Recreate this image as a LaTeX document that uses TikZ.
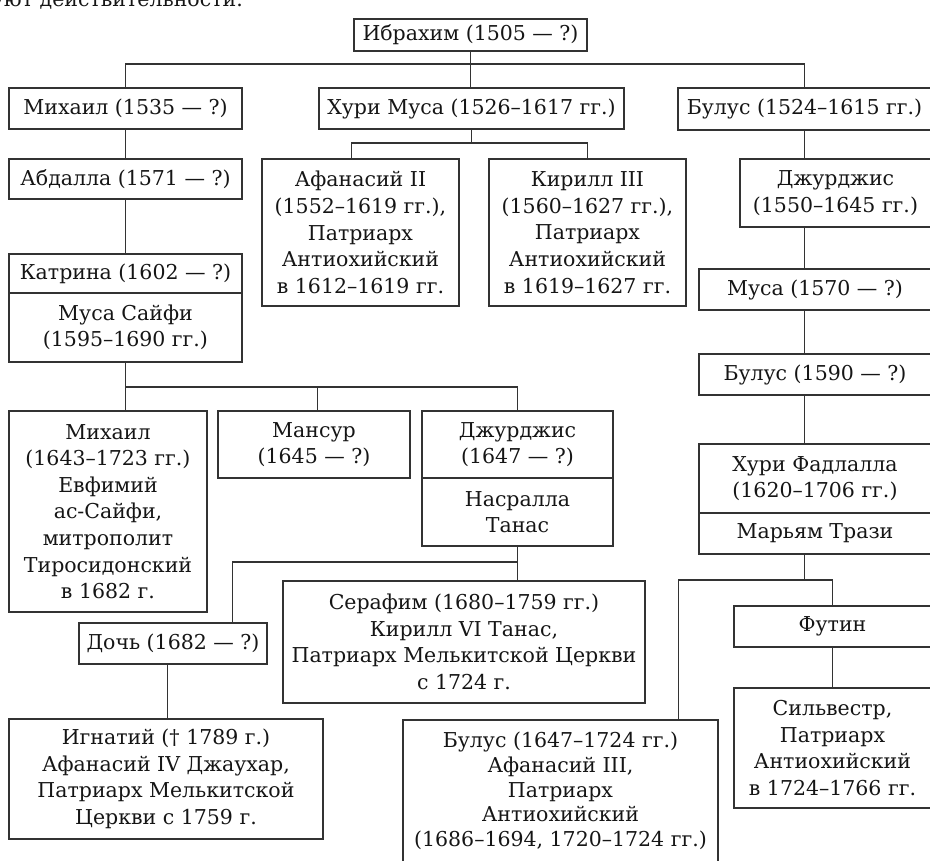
\documentclass[tikz,border=0pt]{standalone}
\usepackage{fontspec}
\setmainfont{DejaVu Serif}
\definecolor{ink}{HTML}{151515}
\definecolor{rule}{HTML}{333333}
\tikzset{
  box/.style={draw=rule, line width=1.1pt, inner sep=0pt, align=center, text=ink,
    font=\fontsize{20.5}{26.6}\selectfont},
  conn/.style={draw=rule, line width=1.1pt}
}
\newcommand\bx[6]{\node[box,minimum width={(#4-#2)*1pt},minimum height={(#5-#3)*1pt}] (#1) at ({(#2+#4)/2},{(#3+#5)/2}) {#6};}
\begin{document}
\begin{tikzpicture}[x=1pt,y=-1pt]
\useasboundingbox (0,0) rectangle (930,861);
\clip (0,0) rectangle (930,861);
\fill[white] (0,0) rectangle (930,861);
\node[anchor=base east, text=ink, inner sep=0pt, font=\fontsize{20.5}{26.6}\selectfont] (toptext) at (243,7) {соответствуют действительности.};
% boxes
\bx{ibr}{354}{19}{587}{51}{Ибрахим (1505 — ?)}
\bx{mih1}{9}{88}{242}{129}{Михаил (1535 — ?)}
\bx{hmusa}{319}{88}{624}{129}{Хури Муса (1526–1617 гг.)}
\bx{bul1}{678}{88}{931}{130}{Булус (1524–1615 гг.)}
\bx{abd}{9}{159}{242}{199}{Абдалла (1571 — ?)}
\bx{afa2}{262}{159}{459}{306}{Афанасий II\\(1552–1619 гг.),\\Патриарх\\Антиохийский\\в 1612–1619 гг.}
\bx{kir3}{489}{159}{686}{306}{Кирилл III\\(1560–1627 гг.),\\Патриарх\\Антиохийский\\в 1619–1627 гг.}
\bx{dzh1}{740}{159}{931}{227}{Джурджис\\(1550–1645 гг.)}
\bx{musa2}{699}{269}{931}{310}{Муса (1570 — ?)}
\bx{kat}{9}{254}{242}{293}{Катрина (1602 — ?)}
\bx{msai}{9}{293}{242}{362}{Муса Сайфи\\(1595–1690 гг.)}
\bx{bul2}{699}{354}{931}{395}{Булус (1590 — ?)}
\bx{mih2}{9}{411}{207}{612}{Михаил\\(1643–1723 гг.)\\Евфимий\\ас-Сайфи,\\митрополит\\Тиросидонский\\в 1682 г.}
\bx{man}{218}{411}{410}{478}{Мансур\\(1645 — ?)}
\bx{dzh2}{422}{411}{613}{478}{Джурджис\\(1647 — ?)}
\bx{nas}{422}{478}{613}{546}{Насралла\\Танас}
\bx{hfad}{699}{444}{931}{513}{Хури Фадлалла\\(1620–1706 гг.)}
\bx{mar}{699}{513}{931}{554}{Марьям Трази}
\bx{ser}{283}{581}{645}{703}{Серафим (1680–1759 гг.)\\Кирилл VI Танас,\\Патриарх Мелькитской Церкви\\с 1724 г.}
\bx{doch}{79}{623}{267}{664}{Дочь (1682 — ?)}
\bx{fut}{734}{606}{931}{647}{Футин}
\bx{ign}{9}{719}{323}{839}{Игнатий († 1789 г.)\\Афанасий IV Джаухар,\\Патриарх Мелькитской\\Церкви с 1759 г.}
\bx{sil}{734}{688}{931}{808}{Сильвестр,\\Патриарх\\Антиохийский\\в 1724–1766 гг.}
\node[box,minimum width=315pt,minimum height=142pt,font=\fontsize{20.5}{24.8}\selectfont] (bul3) at (560.5,791) {Булус (1647–1724 гг.)\\Афанасий III,\\Патриарх\\Антиохийский\\(1686–1694, 1720–1724 гг.)};
% junction rows
\coordinate (r0) at (0,64);
\coordinate (r1) at (0,143);
\coordinate (r2) at (0,387);
\coordinate (r3) at (0,562);
\coordinate (r4) at (0,580);
% connectors
\draw[conn] (ibr.south) -- (ibr.south |- hmusa.north);
\draw[conn] (mih1.north) -- (mih1.north |- r0) -- (bul1.north |- r0) -- (bul1.north);
\draw[conn] (mih1) -- (abd);
\draw[conn] (abd) -- (kat);
\draw[conn] (hmusa.south) -- (hmusa.south |- r1);
\draw[conn] ([xshift=90pt]afa2.north west) -- ([xshift=90pt]afa2.north west |- r1) -- (kir3.north |- r1) -- (kir3.north);
\draw[conn] (bul1) -- (dzh1.north -| bul1.south);
\draw[conn] (dzh1.south -| bul1.south) -- (musa2.north -| bul1.south);
\draw[conn] (musa2.south -| bul1.south) -- (bul2.north -| bul1.south);
\draw[conn] (bul2.south -| bul1.south) -- (hfad.north -| bul1.south);
\draw[conn] (msai.south) -- (msai.south |- mih2.north);
\draw[conn] (msai.south |- r2) -- (dzh2.north |- r2) -- (dzh2.north);
\draw[conn] ([xshift=100pt]man.north west |- r2) -- ([xshift=100pt]man.north west);
\draw[conn] (nas.south) -- (nas.south |- ser.north);
\draw[conn] (nas.south |- r3) -| ([xshift=154pt]doch.north west);
\draw[conn] ([xshift=89pt]doch.south west) -- ([xshift=89pt]doch.south west |- ign.north);
\draw[conn] (mar.south -| bul1.south) -- (bul1.south |- r4);
\draw[conn] ([xshift=276pt]bul3.north west) -- ([xshift=276pt]bul3.north west |- r4) -| (fut.north);
\draw[conn] (fut) -- (sil);
\end{tikzpicture}
\end{document}
